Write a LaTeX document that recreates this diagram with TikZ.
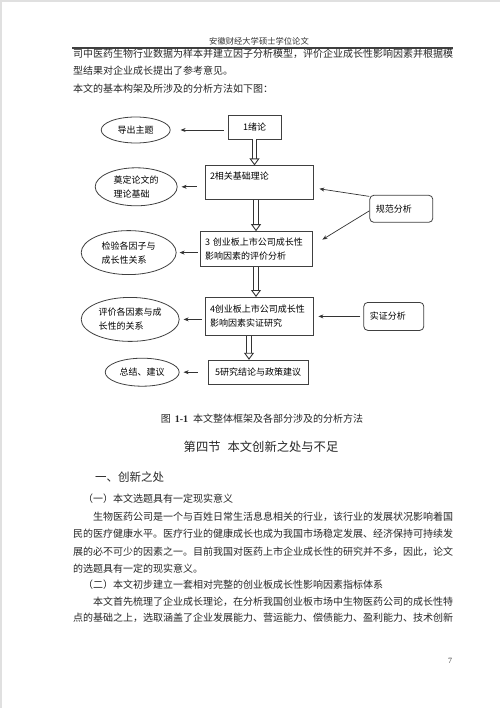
\documentclass[tikz,border=0pt]{standalone}
\usepackage{fontspec}
\setmainfont{Liberation Serif}
\newfontfamily\cjk{Noto Sans CJK SC}
\usetikzlibrary{arrows.meta,positioning,shapes.geometric}
\tikzset{
	stage/.style={rectangle,draw=black!75,line width=0.8pt,inner xsep=5pt,inner ysep=2pt,align=left,font=\cjk\fontsize{9}{14}\selectfont},
	topic/.style={ellipse,draw=black!75,line width=0.8pt,inner sep=0pt,align=left,font=\cjk\fontsize{9}{14}\selectfont},
	method/.style={rectangle,rounded corners=4pt,draw=black!75,line width=0.8pt,inner xsep=6pt,align=left,font=\cjk\fontsize{9}{14}\selectfont},
	link/.style={-{Stealth[length=5pt,width=4pt]},draw=black!80,line width=0.7pt},
	flow/.style={draw=black!80,double=white,double distance=3.6pt,line width=1pt,-{Triangle[open,length=7pt,width=10pt,line width=0.9pt]}},
	pageline/.style={anchor=west,inner sep=0pt,text=black!85,font=\cjk\fontsize{10}{12}\selectfont}
}
\begin{document}
\begin{tikzpicture}[x=1pt,y=-1pt]
	\useasboundingbox (0,0) rectangle (500,708);
	\draw[black!12,line width=2pt] (1,708) -- (1,1) -- (500,1);
	% running head
	\node[inner sep=0pt,text=black!80,font=\cjk\fontsize{8.3}{10}\selectfont] (head) at (259,41) {安徽财经大学硕士学位论文};
	\draw[black!75,line width=1.6pt] (72,48) -- (453,48);
	\node[pageline] (p1) at (73,54) {司中医药生物行业数据为样本并建立因子分析模型，评价企业成长性影响因素并根据模};
	\node[pageline] (p2) at (73,71) {型结果对企业成长提出了参考意见。};
	\node[pageline] (p3) at (73,89) {本文的基本构架及所涉及的分析方法如下图：};

	% framework
	\node[stage,align=center,text width=43pt,minimum height=24pt] (intro) at (254.5,127) {1绪论};
	\node[stage,text width=98pt,minimum height=34pt,below=26pt of intro,xshift=4.5pt] (theory) {2相关基础理论\\~};
	\node[stage,text width=102pt,minimum height=35pt,below=31pt of theory,xshift=-3pt] (evaluate) {3 创业板上市公司成长性\\影响因素的评价分析};
	\node[stage,text width=98pt,minimum height=38pt,below=30pt of evaluate,xshift=3pt] (verify) {4创业板上市公司成长性\\影响因素实证研究};
	\node[stage,align=center,text width=90pt,minimum height=24pt,below=24pt of verify,xshift=-1pt] (conclude) {5研究结论与政策建议};

	\node[topic,minimum width=69pt,minimum height=26pt,left=57pt of intro,yshift=-3pt] (aim) {导出主题};
	\node[topic,minimum width=82pt,minimum height=38pt,left=27pt of theory,yshift=-4pt] (base) {奠定论文的\\理论基础};
	\node[topic,minimum width=95pt,minimum height=44pt,left=23pt of evaluate,yshift=-3.5pt] (relate) {检验各因子与\\成长性关系};
	\node[topic,minimum width=98pt,minimum height=44pt,left=25pt of verify,yshift=-3pt] (effect) {评价各因素与成\\长性的关系};
	\node[topic,minimum width=74pt,minimum height=28pt,left=28pt of conclude] (advice) {总结、建议};

	\node[method,text width=51pt,minimum height=27pt,right=56pt of theory,yshift=-26pt] (normative) {规范分析};
	\node[method,text width=48pt,minimum height=28pt,right=50pt of verify] (empirical) {实证分析};

	\draw[flow] (intro) -- (intro |- theory.north);
	\draw[flow] (evaluate |- theory.south) -- (evaluate.north);
	\draw[flow] (evaluate) -- (evaluate |- verify.north);
	\draw[flow] ([xshift=-9pt]conclude.north |- verify.south) -- ([xshift=-9pt]conclude.north);

	\draw[link,shorten <=4pt,shorten >=10pt] (intro.west |- aim.east) -- (aim.east);
	\draw[link,shorten <=8pt,shorten >=4pt] (theory.west |- base.east) -- (base.east);
	\draw[link,shorten <=2pt,shorten >=3pt] (evaluate.west |- relate.east) -- (relate.east);
	\draw[link,shorten <=3pt,shorten >=4pt] (verify.west |- effect.east) -- (effect.east);
	\draw[link,shorten <=10pt,shorten >=4pt] (conclude.west |- advice.east) -- (advice.east);

	\draw[link] ([yshift=-1.5pt]normative.north west) -- ([xshift=6pt,yshift=-6pt]theory.east);
	\draw[link] ([yshift=-2pt]normative.west) -- ([xshift=10pt,yshift=9.5pt]evaluate.east);
	\draw[link,shorten <=3pt,shorten >=5pt] (empirical.west) -- (empirical.west -| verify.east);

	% caption and following text
	\node[inner sep=0pt,text=black!85,font=\cjk\fontsize{10}{12}\selectfont] (caption) at (262,419) {图\hspace{4pt}{\rmfamily\bfseries 1-1}\hspace{5pt}本文整体框架及各部分涉及的分析方法};
	\node[inner sep=0pt,text=black!85,font=\cjk\fontsize{12.3}{14}\selectfont] (section) at (261,447) {第四节\hspace{7pt}本文创新之处与不足};
	\node[pageline,font=\cjk\fontsize{11.5}{13}\selectfont] (sub) at (95,477) {一、创新之处};
	\node[pageline] (q1) at (83,499) {（一）本文选题具有一定现实意义};
	\node[pageline] (b1) at (93,517) {生物医药公司是一个与百姓日常生活息息相关的行业，该行业的发展状况影响着国};
	\node[pageline] (b2) at (73,534) {民的医疗健康水平。医疗行业的健康成长也成为我国市场稳定发展、经济保持可持续发};
	\node[pageline] (b3) at (73,552) {展的必不可少的因素之一。目前我国对医药上市企业成长性的研究并不多，因此，论文};
	\node[pageline] (b4) at (73,569) {的选题具有一定的现实意义。};
	\node[pageline] (q2) at (83,585) {（二）本文初步建立一套相对完整的创业板成长性影响因素指标体系};
	\node[pageline] (b5) at (93,602) {本文首先梳理了企业成长理论，在分析我国创业板市场中生物医药公司的成长性特};
	\node[pageline] (b6) at (73,618) {点的基础之上，选取涵盖了企业发展能力、营运能力、偿债能力、盈利能力、技术创新};
	\node[inner sep=0pt,text=black!80,font=\rmfamily\fontsize{8}{10}\selectfont] (page) at (450,661) {7};
\end{tikzpicture}
\end{document}
